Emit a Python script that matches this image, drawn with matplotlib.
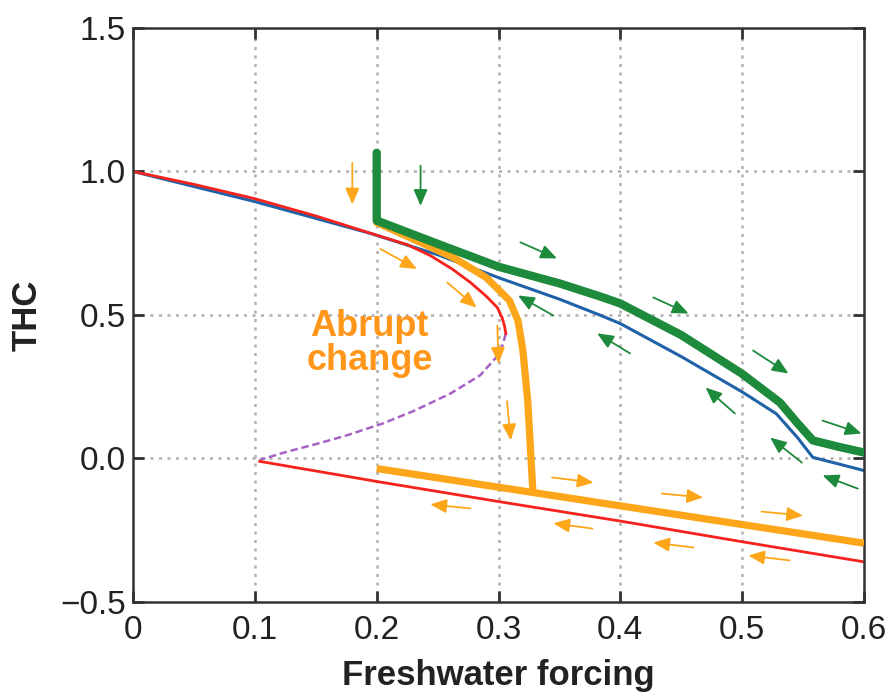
import numpy as np
import matplotlib
matplotlib.use("Agg")
import matplotlib.pyplot as plt

plt.rcParams['font.family'] = ['Liberation Sans', 'DejaVu Sans']

# stable "on" branch (red, upper) up to the saddle-node fold
red_up_x = [0, 0.05, 0.1, 0.15, 0.2, 0.225, 0.244, 0.262, 0.277, 0.29, 0.299, 0.303, 0.305, 0.306]
red_up_y = [1.0, 0.955, 0.905, 0.845, 0.778, 0.745, 0.707, 0.66, 0.613, 0.565, 0.526, 0.49, 0.46, 0.435]
# unstable branch (purple dashed)
pur_x = [0.306, 0.303, 0.298, 0.285, 0.26, 0.23, 0.205, 0.175, 0.15, 0.125, 0.104]
pur_y = [0.435, 0.39, 0.352, 0.29, 0.225, 0.165, 0.122, 0.08, 0.05, 0.022, -0.005]
# stable "off" branch (red, lower)
red_lo_x = [0.104, 0.2, 0.3, 0.4, 0.5, 0.6]
red_lo_y = [-0.01, -0.08, -0.15, -0.218, -0.29, -0.36]
# blue branch
blue_x = [0, 0.1, 0.195, 0.25, 0.3, 0.35, 0.383, 0.4, 0.45, 0.5, 0.528, 0.545, 0.558, 0.58, 0.6]
blue_y = [1.0, 0.895, 0.784, 0.71, 0.63, 0.555, 0.5, 0.47, 0.355, 0.232, 0.156, 0.075, 0.004, -0.02, -0.042]
# green trajectory
green_x = [0.2, 0.2, 0.25, 0.3, 0.35, 0.383, 0.4, 0.45, 0.5, 0.531, 0.545, 0.558, 0.58, 0.605]
green_y = [1.065, 0.829, 0.748, 0.668, 0.61, 0.565, 0.54, 0.43, 0.295, 0.195, 0.125, 0.063, 0.04, 0.016]
# orange trajectory (abrupt change)
orange_up_x = [0.2, 0.2, 0.227, 0.263, 0.29, 0.309, 0.316, 0.32, 0.324, 0.328]
orange_up_y = [1.06, 0.822, 0.77, 0.70, 0.63, 0.55, 0.48, 0.376, 0.2, -0.10]
orange_lo_x = [0.2, 0.6]
orange_lo_y = [-0.035, -0.295]

# small arrows: (x0, y0, x1, y1)
orange_arrows = [
    (0.18, 1.03, 0.18, 0.885),
    (0.203, 0.73, 0.233, 0.66),
    (0.258, 0.613, 0.282, 0.526),
    (0.299, 0.463, 0.30, 0.33),
    (0.307, 0.20, 0.31, 0.063),
    (0.344, -0.066, 0.378, -0.084),
    (0.434, -0.122, 0.468, -0.136),
    (0.516, -0.185, 0.55, -0.199),
    (0.277, -0.174, 0.244, -0.160),
    (0.377, -0.244, 0.345, -0.226),
    (0.46, -0.31, 0.427, -0.293),
    (0.539, -0.355, 0.505, -0.338),
]
green_arrows = [
    (0.236, 1.02, 0.236, 0.88),
    (0.318, 0.753, 0.348, 0.697),
    (0.427, 0.561, 0.456, 0.505),
    (0.509, 0.376, 0.538, 0.296),
    (0.566, 0.132, 0.598, 0.087),
    (0.345, 0.498, 0.316, 0.568),
    (0.408, 0.366, 0.381, 0.436),
    (0.494, 0.157, 0.47, 0.247),
    (0.549, -0.014, 0.523, 0.073),
    (0.595, -0.105, 0.566, -0.059),
]

xticks = [0, 0.1, 0.2, 0.3, 0.4, 0.5, 0.6]
xticklabels = ['0', '0.1', '0.2', '0.3', '0.4', '0.5', '0.6']
yticks = [-0.5, 0.0, 0.5, 1.0, 1.5]
yticklabels = ['\u22120.5', '0.0', '0.5', '1.0', '1.5']

c_red = '#f5231c'
c_blue = '#2062a8'
c_green = '#1d8a3c'
c_orange = '#fda619'
c_purple = '#a763c4'
c_text = '#ff9619'

fig = plt.figure(figsize=(8.93, 6.98), dpi=100)
ax = fig.add_axes([0.149, 0.1375, 0.8185, 0.8225])

ax.set_xlim(0, 0.6)
ax.set_ylim(-0.5, 1.5)

for v in [0.1, 0.2, 0.3, 0.4, 0.5]:
    ax.axvline(v, color='#b0b0b0', lw=1.8, ls=(0, (1.2, 2.2)), zorder=0)
for v in [0.0, 0.5, 1.0]:
    ax.axhline(v, color='#b0b0b0', lw=1.8, ls=(0, (1.2, 2.2)), zorder=0)

ax.plot(pur_x, pur_y, color=c_purple, lw=1.8, ls=(0, (3, 1.5)), zorder=2)
ax.plot(red_lo_x, red_lo_y, color=c_red, lw=2.0, zorder=2)
ax.plot(blue_x, blue_y, color=c_blue, lw=2.2, zorder=2)
ax.plot(red_up_x, red_up_y, color=c_red, lw=2.0, zorder=2)
ax.plot(orange_up_x, orange_up_y, color=c_orange, lw=5.2, zorder=3,
        solid_joinstyle='round')
ax.plot(orange_lo_x, orange_lo_y, color=c_orange, lw=5.2, zorder=3,
        solid_capstyle='butt')
ax.plot(green_x, green_y, color=c_green, lw=6.0, zorder=4,
        solid_joinstyle='round', solid_capstyle='round')

for x0, y0, x1, y1 in orange_arrows:
    ax.annotate('', xy=(x1, y1), xytext=(x0, y0),
                arrowprops=dict(arrowstyle='-|>,head_length=0.7,head_width=0.3',
                                color=c_orange, lw=1.3, shrinkA=0, shrinkB=0,
                                mutation_scale=14), zorder=5)
for x0, y0, x1, y1 in green_arrows:
    ax.annotate('', xy=(x1, y1), xytext=(x0, y0),
                arrowprops=dict(arrowstyle='-|>,head_length=0.7,head_width=0.3',
                                color=c_green, lw=1.3, shrinkA=0, shrinkB=0,
                                mutation_scale=14), zorder=5)

ax.text(0.194, 0.40, 'Abrupt\nchange', color=c_text, fontsize=26,
        fontweight='bold', ha='center', va='center', linespacing=0.95,
        zorder=6)

ax.set_xticks(xticks)
ax.set_xticklabels(xticklabels)
ax.set_yticks(yticks)
ax.set_yticklabels(yticklabels)
ax.tick_params(direction='in', length=8, width=2, labelsize=24,
               top=True, right=True, colors='#333333', labelcolor='#222222')
ax.tick_params(axis='x', pad=9)
ax.tick_params(axis='y', pad=5)
for s in ax.spines.values():
    s.set_linewidth(1.8)
    s.set_color('#333333')

ax.set_xlabel('Freshwater forcing', fontsize=25, fontweight='bold',
              color='#222222', labelpad=10)
ax.set_ylabel('THC', fontsize=25, fontweight='bold', color='#222222',
              labelpad=12)

fig.savefig('out.png', dpi=100)
